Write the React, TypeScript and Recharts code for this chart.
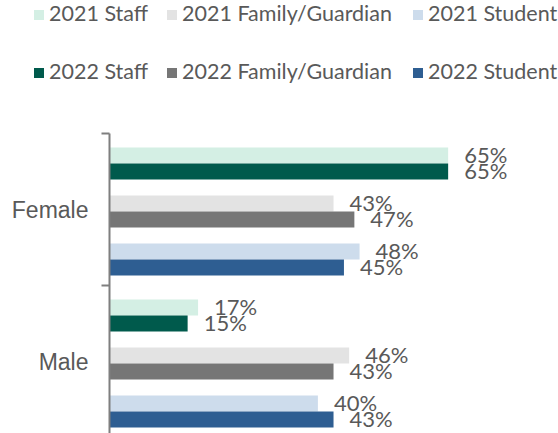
import { BarChart, Bar, XAxis, YAxis, LabelList } from "recharts"

// ── Data ───────────────────────────────────────────────────────────────────

const CATEGORIES = ["Female", "Male"]
const YEARS = ["2021", "2022"]
const GROUPS = ["Staff", "Family/Guardian", "Student"]

const STAFF_2021 = [65, 17]
const STAFF_2022 = [65, 15]
const FAMILY_2021 = [43, 46]
const FAMILY_2022 = [47, 43]
const STUDENT_2021 = [48, 40]
const STUDENT_2022 = [45, 43]

const VALUES: Record<string, number[][]> = {
  Staff: [STAFF_2021, STAFF_2022],
  "Family/Guardian": [FAMILY_2021, FAMILY_2022],
  Student: [STUDENT_2021, STUDENT_2022],
}

// ── Styles ─────────────────────────────────────────────────────────────────

const COLORS: Record<string, string[]> = {
  Staff: ["#d4efe4", "#005a4c"],
  "Family/Guardian": ["#e3e3e3", "#767676"],
  Student: ["#cddcec", "#2e5e92"],
}

const TEXT = "#595959"
const AXIS = "#7f7f7f"
const LATO = "Lato, 'Noto Sans', sans-serif"

const CHART_W = 558
const CHART_H = 445
const MARGIN = { top: 133.5, right: 31.7, bottom: 7.5, left: 0 }
const Y_AXIS_W = 109.5
const TICK_SIZE = 8
const TICK_MARGIN = 13
const PLOT_H = CHART_H - MARGIN.top - MARGIN.bottom
const BAND = PLOT_H / CATEGORIES.length

// legend layout: column starts and row tops
const LEGEND_COLS = [34, 167, 413]
const LEGEND_ROWS = [1.5, 59.5]

const keyOf = (group: string, yi: number) => `${group}-${YEARS[yi]}`

const data = CATEGORIES.map((cat, ci) => {
  const row: Record<string, string | number> = { category: cat }
  GROUPS.forEach((g) => {
    YEARS.forEach((_, yi) => {
      row[keyOf(g, yi)] = VALUES[g][yi][ci]
    })
  })
  return row
})

// ── Axis tick: label in the band centre, tick marks on band edges ─────────

function CategoryTick(props: any) {
  const { x, y, payload, index } = props
  const axisX = x + TICK_SIZE + TICK_MARGIN
  const top = y - BAND / 2
  const bottom = y + BAND / 2
  return (
    <g>
      <line x1={axisX - TICK_SIZE} x2={axisX} y1={top} y2={top} stroke={AXIS} strokeWidth={2} />
      {index === CATEGORIES.length - 1 && (
        <line x1={axisX - TICK_SIZE} x2={axisX} y1={bottom} y2={bottom} stroke={AXIS} strokeWidth={2} />
      )}
      <text
        x={x}
        y={y}
        dy="0.36em"
        textAnchor="end"
        fill={TEXT}
        fontSize={23}
        fontFamily="'Liberation Sans', Arial, sans-serif"
      >
        {payload.value}
      </text>
    </g>
  )
}

// ── Legend (two rows: one per year) ───────────────────────────────────────

function LegendRows() {
  return (
    <>
      {YEARS.map((year, yi) =>
        GROUPS.map((g, gi) => (
          <div
            key={`${year}-${g}`}
            style={{
              position: "absolute",
              left: LEGEND_COLS[gi],
              top: LEGEND_ROWS[yi],
              height: 22,
              display: "flex",
              alignItems: "center",
              gap: 5,
            }}
          >
            <span
              style={{
                width: 10,
                height: 10,
                marginTop: 5,
                background: COLORS[g][yi],
                display: "inline-block",
              }}
            />
            <span
              style={{
                fontFamily: LATO,
                fontSize: 21.5,
                lineHeight: "22px",
                color: TEXT,
                whiteSpace: "nowrap",
              }}
            >
              {year} {g}
            </span>
          </div>
        ))
      )}
    </>
  )
}

// ── Main ───────────────────────────────────────────────────────────────────

export default function App() {
  const bars: any[] = []
  GROUPS.forEach((g, gi) => {
    YEARS.forEach((year, yi) => {
      bars.push(
        <Bar
          key={keyOf(g, yi)}
          dataKey={keyOf(g, yi)}
          name={`${year} ${g}`}
          fill={COLORS[g][yi]}
          isAnimationActive={false}
        >
          <LabelList
            dataKey={keyOf(g, yi)}
            position="right"
            offset={16}
            formatter={(v: any) => `${v}%`}
            fill={TEXT}
            fontSize={22}
            fontFamily={LATO}
          />
        </Bar>
      )
    })
    // empty slot between the year pairs
    if (gi < GROUPS.length - 1) {
      bars.push(
        <Bar
          key={`gap-${gi}`}
          dataKey={`gap-${gi}`}
          legendType="none"
          fill="none"
          isAnimationActive={false}
        />
      )
    }
  })

  return (
    <div
      style={{
        position: "absolute",
        left: 0,
        top: 0,
        width: CHART_W,
        height: 433,
        overflow: "hidden",
        background: "#fff",
      }}
    >
      <LegendRows />
      <BarChart
        width={CHART_W}
        height={CHART_H}
        data={data}
        layout="vertical"
        margin={MARGIN}
        barGap={0}
        barCategoryGap={14}
      >
        <XAxis type="number" domain={[0, 80]} hide />
        <YAxis
          type="category"
          dataKey="category"
          width={Y_AXIS_W}
          axisLine={{ stroke: AXIS, strokeWidth: 2 }}
          tickLine={false}
          tickSize={TICK_SIZE}
          tickMargin={TICK_MARGIN}
          tick={<CategoryTick />}
          interval={0}
        />
        {bars}
      </BarChart>
    </div>
  )
}
